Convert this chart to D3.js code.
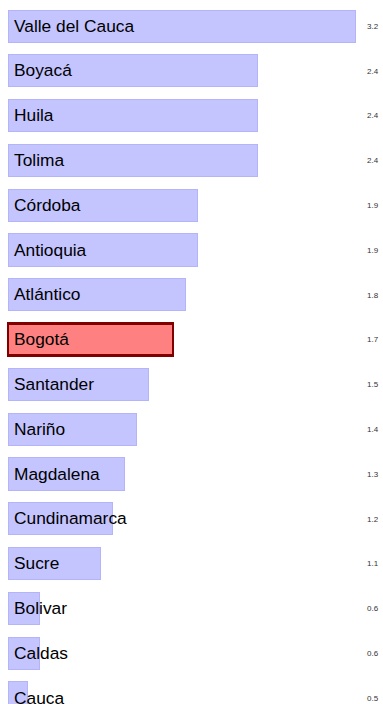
<!DOCTYPE html>
<html>
<head>
<meta charset="utf-8">
<script src="https://cdn.jsdelivr.net/npm/d3@7"></script>
<style>
  html, body { margin: 0; padding: 0; background: #fff; }
  svg { display: block; }
</style>
</head>
<body>
<svg id="chart" width="383" height="704"></svg>
<script>
// Departments and their values, top to bottom
const departments = ["Valle del Cauca", "Boyacá", "Huila", "Tolima", "Córdoba", "Antioquia",
  "Atlántico", "Bogotá", "Santander", "Nariño", "Magdalena", "Cundinamarca", "Sucre",
  "Bolivar", "Caldas", "Cauca"];
const values = [3.2, 2.4, 2.4, 2.4, 1.9, 1.9, 1.8, 1.7, 1.5, 1.4, 1.3, 1.2, 1.1, 0.6, 0.6, 0.5];
const highlighted = ["Bogotá"];

const data = departments.map((d, i) => ({ name: d, value: values[i] }));

const svg = d3.select("#chart");
const left = 8;

const x = d3.scaleLinear()
  .domain([0.34, d3.max(values)])
  .range([0, 347]);

const y = d3.scaleBand()
  .domain(departments)
  .range([10, 714])
  .paddingInner(0.285)
  .paddingOuter(0)
  .align(0);

const rows = svg.selectAll("g.row")
  .data(data)
  .join("g")
  .attr("class", "row")
  .attr("transform", d => `translate(0,${y(d.name)})`);

rows.append("rect")
  .attr("x", left)
  .attr("y", 0)
  .attr("width", d => x(d.value))
  .attr("height", y.bandwidth())
  .attr("fill", d => highlighted.includes(d.name) ? "#ff8080" : "#c4c4ff")
  .attr("stroke", d => highlighted.includes(d.name) ? "#800000" : "#b4b4fa")
  .attr("stroke-width", d => highlighted.includes(d.name) ? 2.5 : 1)
  .attr("shape-rendering", "crispEdges");

rows.append("text")
  .attr("x", 14)
  .attr("y", y.bandwidth() / 2)
  .attr("dy", "0.32em")
  .attr("font-family", "Liberation Sans, Arial, sans-serif")
  .attr("font-size", 17.33)
  .attr("fill", "#000")
  .text(d => d.name);

rows.append("text")
  .attr("x", 367)
  .attr("y", y.bandwidth() / 2)
  .attr("dy", "0.35em")
  .attr("font-family", "Liberation Sans, Arial, sans-serif")
  .attr("font-size", 8)
  .attr("fill", "#333")
  .text(d => d3.format(".1f")(d.value));
</script>
</body>
</html>
